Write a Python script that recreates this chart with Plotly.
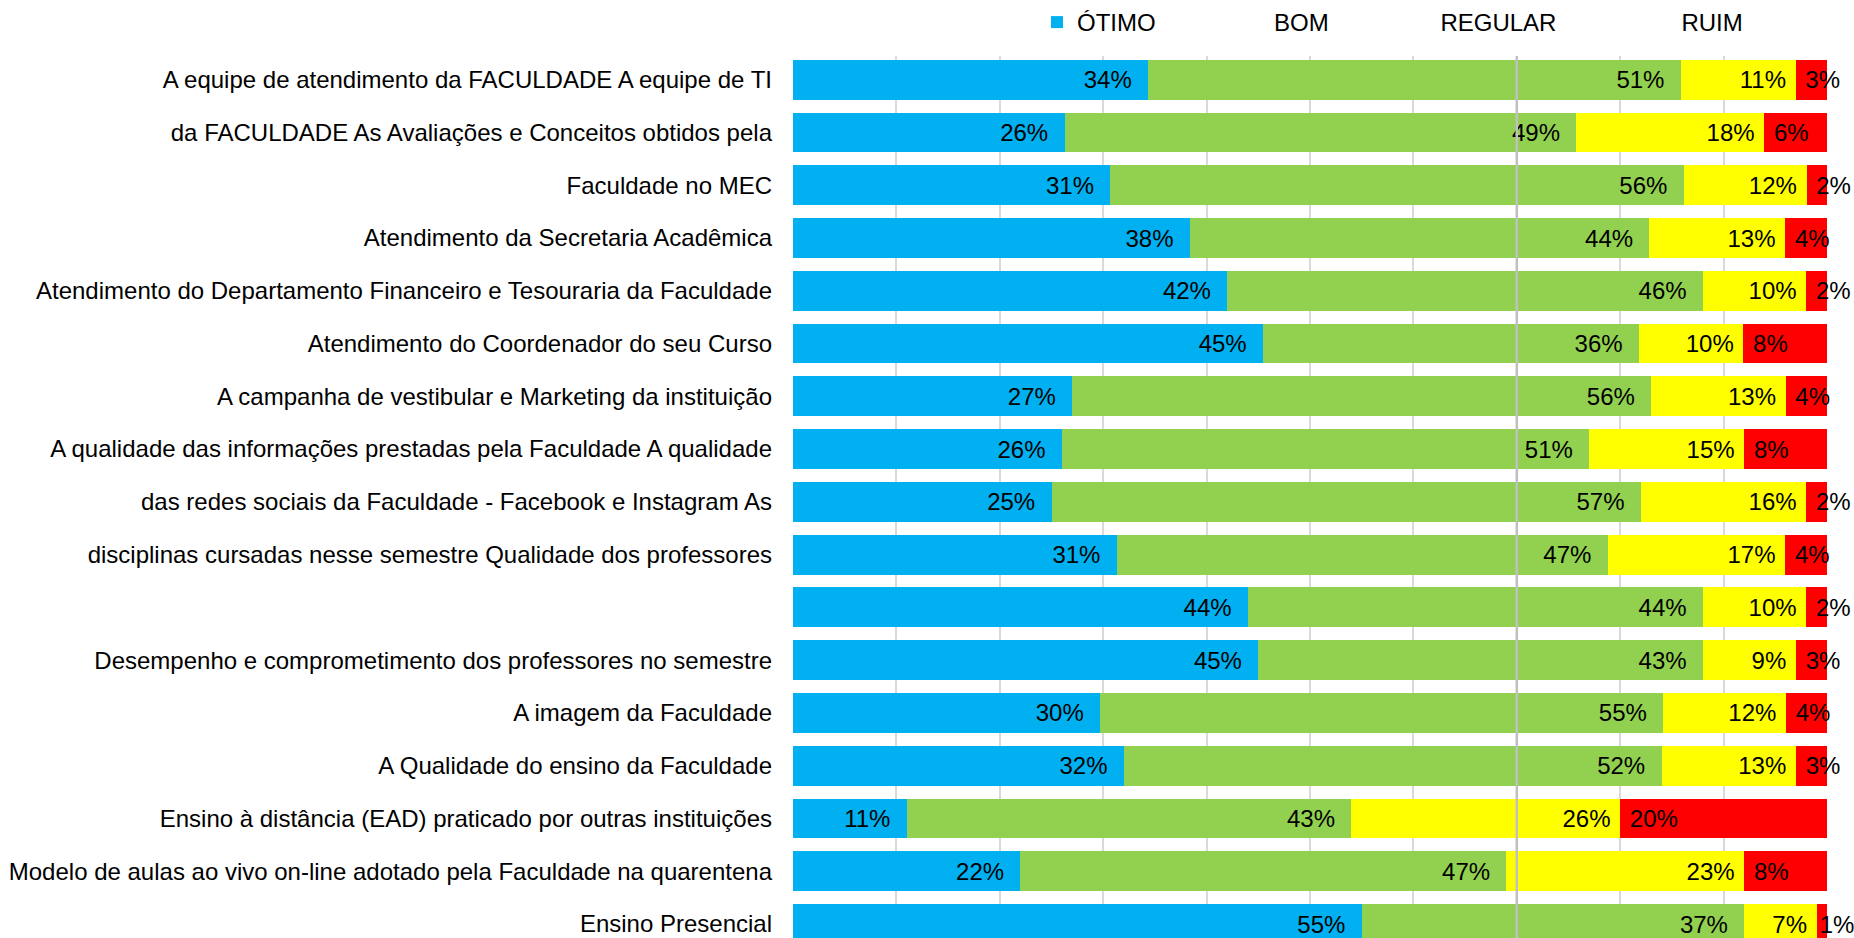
import plotly.graph_objects as go

# Survey items, top to bottom
categories = [
    "A equipe de atendimento da FACULDADE A equipe de TI",
    "da FACULDADE As Avaliações e Conceitos obtidos pela",
    "Faculdade no MEC",
    "Atendimento da Secretaria Acadêmica",
    "Atendimento do Departamento Financeiro e Tesouraria da Faculdade",
    "Atendimento do Coordenador do seu Curso",
    "A campanha de vestibular e Marketing da instituição",
    "A qualidade das informações prestadas pela Faculdade A qualidade",
    "das redes sociais da Faculdade - Facebook e Instagram As",
    "disciplinas cursadas nesse semestre Qualidade dos professores",
    "",
    "Desempenho e comprometimento dos professores no semestre",
    "A imagem da Faculdade",
    "A Qualidade do ensino da Faculdade",
    "Ensino à distância (EAD) praticado por outras instituições",
    "Modelo de aulas ao vivo on-line adotado pela Faculdade na quarentena",
    "Ensino Presencial",
]

# Share of answers per rating (%)
otimo = [34, 26, 31, 38, 42, 45, 27, 26, 25, 31, 44, 45, 30, 32, 11, 22, 55]
bom = [51, 49, 56, 44, 46, 36, 56, 51, 57, 47, 44, 43, 55, 52, 43, 47, 37]
regular = [11, 18, 12, 13, 10, 10, 13, 15, 16, 17, 10, 9, 12, 13, 26, 23, 7]
ruim = [3, 6, 2, 4, 2, 8, 4, 8, 2, 4, 2, 3, 4, 3, 20, 8, 1]

series_names = ["ÓTIMO", "BOM", "REGULAR", "RUIM"]
colors = ["#00B0F0", "#92D050", "#FFFF00", "#FF0000"]

FONT = "Liberation Sans, Arial, sans-serif"
NB = "\u00a0"
rows = list(range(len(categories)))

fig = go.Figure()

label_cfg = [
    # (values, anchor inside the segment, label text)
    (otimo, "end", lambda v: f"{v}%{NB * 2}"),
    (bom, "end", lambda v: f"{v}%{NB * 2}"),
    (regular, "end", lambda v: f"{v}%{NB}"),
    (ruim, "start", lambda v: f"{NB if v > 1 else ''}{v}%"),
]

for (vals, anchor, fmt), name, color in zip(label_cfg, series_names, colors):
    fig.add_trace(go.Bar(
        y=rows,
        x=vals,
        orientation="h",
        name=name,
        marker=dict(color=color, line=dict(width=0)),
        text=[fmt(v) for v in vals],
        textposition="inside",
        insidetextanchor=anchor,
        textangle=0,
        constraintext="none",
        textfont=dict(family=FONT, size=24, color="#000000"),
        cliponaxis=False,
        showlegend=False,
        hoverinfo="skip",
    ))

# Legend entries: only the first rating shows its swatch
legend_pad = [11, 10, 12, 0]
for name, color, pad in zip(series_names, colors, legend_pad):
    fig.add_trace(go.Scatter(
        x=[None], y=[None],
        mode="markers",
        name=name + NB * pad,
        marker=dict(symbol="square", size=12,
                    color=color if name == "ÓTIMO" else "rgba(0,0,0,0)"),
        showlegend=True,
        hoverinfo="skip",
    ))

fig.update_layout(
    width=1854,
    height=938,
    margin=dict(l=793, r=27, t=53, b=0),
    paper_bgcolor="white",
    plot_bgcolor="white",
    barmode="stack",
    barnorm="percent",
    bargap=0.245,
    font=dict(family=FONT, size=24, color="#000000"),
    showlegend=True,
    legend=dict(
        orientation="h",
        x=0.236, xanchor="left",
        y=1.038, yanchor="middle",
        font=dict(family=FONT, size=24, color="#000000"),
        bgcolor="rgba(0,0,0,0)",
        traceorder="normal",
    ),
    xaxis=dict(
        range=[0, 100.001],
        showticklabels=False,
        showgrid=True,
        gridcolor="#D9D9D9",
        gridwidth=2,
        tick0=0,
        dtick=10,
        zeroline=False,
        showline=False,
        fixedrange=True,
    ),
    yaxis=dict(
        range=[16.265, -0.449],
        tickmode="array",
        tickvals=rows,
        ticktext=categories,
        showgrid=False,
        zeroline=False,
        showline=False,
        ticks="",
        ticklabelstandoff=20,
        ticklabeloverflow="allow",
        tickfont=dict(family=FONT, size=24, color="#000000"),
        fixedrange=True,
    ),
    shapes=[
        dict(type="line", xref="x", yref="paper", x0=70, x1=70, y0=0, y1=1,
             line=dict(color="#C0C0C0", width=2.5), layer="above"),
    ],
)

fig.write_html("out.html")
